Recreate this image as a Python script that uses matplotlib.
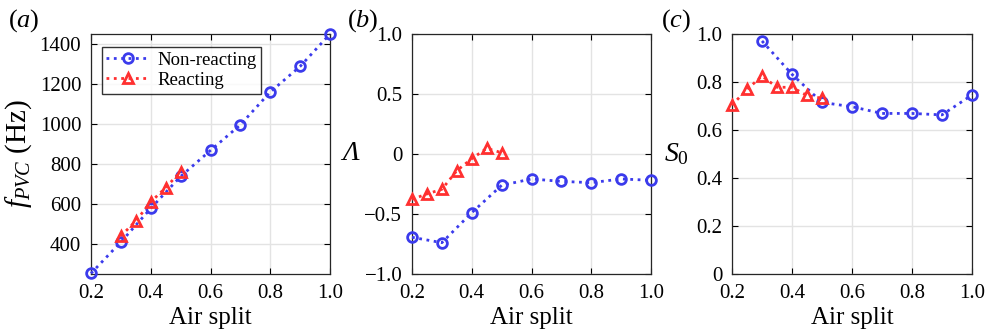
import matplotlib
matplotlib.use("Agg")
import matplotlib.pyplot as plt

plt.rcParams['font.family'] = ['Liberation Serif', 'DejaVu Serif']
plt.rcParams['mathtext.fontset'] = 'custom'
plt.rcParams['mathtext.rm'] = 'Liberation Serif'
plt.rcParams['mathtext.it'] = 'Liberation Serif:italic'
plt.rcParams['mathtext.bf'] = 'Liberation Serif:bold'

# Data
x_nr = [0.2, 0.3, 0.4, 0.5, 0.6, 0.7, 0.8, 0.9, 1.0]
x_r = [0.3, 0.35, 0.4, 0.45, 0.5]
f_nr = [253, 410, 578, 738, 868, 996, 1160, 1288, 1450]
f_r = [440, 515, 610, 682, 762]

xb_nr = [0.2, 0.3, 0.4, 0.5, 0.6, 0.7, 0.8, 0.9, 1.0]
lam_nr = [-0.694, -0.739, -0.489, -0.261, -0.208, -0.228, -0.239, -0.208, -0.219]
xb_r = [0.2, 0.25, 0.3, 0.35, 0.4, 0.45, 0.5]
lam_r = [-0.378, -0.333, -0.294, -0.139, -0.039, 0.047, 0.011]

xc_nr = [0.3, 0.4, 0.5, 0.6, 0.7, 0.8, 0.9, 1.0]
s_nr = [0.971, 0.832, 0.715, 0.697, 0.669, 0.669, 0.663, 0.746]
xc_r = [0.2, 0.25, 0.3, 0.35, 0.4, 0.45, 0.5]
s_r = [0.704, 0.769, 0.825, 0.778, 0.778, 0.744, 0.732]

blue = '#3b3bec'
red = '#ff3030'

W, H = 988, 334
fig = plt.figure(figsize=(W/100, H/100), dpi=100)

def add_ax(l, r, t=34, b=274):
    return fig.add_axes([l/W, 1 - b/H, (r - l)/W, (b - t)/H])

axa = add_ax(91, 330)
axb = add_ax(412, 651)
axc = add_ax(732, 972)

lk = dict(linestyle=':', linewidth=2.0, markersize=7, markerfacecolor='none', markeredgewidth=2.0)

def style(ax):
    ax.set_xlim(0.2, 1.0)
    ax.grid(True, color='#e3e3e3', linewidth=1.0)
    ax.set_axisbelow(True)
    ax.tick_params(direction='in', top=True, right=True, labelsize=15, length=4, width=0.8, pad=7)
    for s in ax.spines.values():
        s.set_linewidth(0.9)
        s.set_color('#262626')
    ax.set_xlabel('Air split', fontsize=18, labelpad=3)
    ax.set_xticks([0.2, 0.4, 0.6, 0.8, 1.0])
    ax.set_xticklabels(['0.2', '0.4', '0.6', '0.8', '1.0'])

# (a)
axa.plot(x_nr, f_nr, color=blue, marker='o', label='Non-reacting', **lk, clip_on=False, zorder=3)
axa.plot(x_r, f_r, color=red, marker='^', label='Reacting', **lk, clip_on=False, zorder=4)
style(axa)
axa.set_ylim(250, 1450)
axa.set_yticks([400, 600, 800, 1000, 1200, 1400])
axa.set_ylabel(r'$f_{PVC}$ (Hz)', fontsize=21, labelpad=4)
leg = axa.legend(loc='upper left', bbox_to_anchor=(0.045, 0.945), fontsize=13.5, frameon=True,
                 fancybox=False, edgecolor='black', handlelength=2.3, borderpad=0.25,
                 labelspacing=0.15, handletextpad=0.4, borderaxespad=0)
leg.get_frame().set_linewidth(1.0)
fig.text(8/W, 1 - 21/H, r'$(a)$', fontsize=19, va='center')

# (b)
axb.plot(xb_nr, lam_nr, color=blue, marker='o', **lk, clip_on=False, zorder=3)
axb.plot(xb_r, lam_r, color=red, marker='^', **lk, clip_on=False, zorder=4)
style(axb)
axb.set_ylim(-1, 1)
axb.set_yticks([-1, -0.5, 0, 0.5, 1])
axb.set_yticklabels(['\u22121.0', '\u22120.5', '0', '0.5', '1.0'])
axb.set_ylabel('\u039b', fontsize=20, style='italic', rotation=0, labelpad=10, va='center')
fig.text(347/W, 1 - 21/H, r'$(b)$', fontsize=19, va='center')

# (c)
axc.plot(xc_nr, s_nr, color=blue, marker='o', **lk, clip_on=False, zorder=3)
axc.plot(xc_r, s_r, color=red, marker='^', **lk, clip_on=False, zorder=4)
style(axc)
axc.set_ylim(0, 1)
axc.set_yticks([0, 0.2, 0.4, 0.6, 0.8, 1.0])
axc.set_yticklabels(['0', '0.2', '0.4', '0.6', '0.8', '1.0'])
axc.set_ylabel(r'$S_0$', fontsize=20, rotation=0, labelpad=14, va='center')
fig.text(661/W, 1 - 21/H, r'$(c)$', fontsize=19, va='center')

fig.savefig('out.png', dpi=100)
